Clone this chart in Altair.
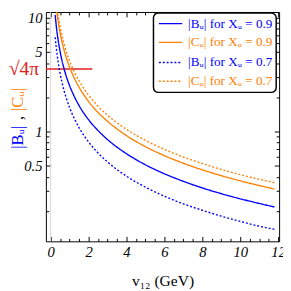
import altair as alt
import pandas as pd

# ---- data ----
v = [0.24, 0.3, 0.4, 0.5, 0.6, 0.7, 0.8, 1.0, 1.25, 1.5, 2.0, 2.5, 3.0, 4.0,
     5.0, 6.0, 7.0, 8.0, 9.0, 10.0, 11.0, 11.8]
bu_09 = [10.6, 8.4, 6.3, 5.05, 4.2, 3.6, 3.15, 2.53, 2.03, 1.69, 1.27, 1.02,
         0.85, 0.638, 0.51, 0.425, 0.365, 0.319, 0.284, 0.256, 0.233, 0.217]
cu_09 = [15.3, 12.3, 9.2, 7.36, 6.13, 5.26, 4.6, 3.68, 2.94, 2.45, 1.84, 1.47,
         1.23, 0.92, 0.736, 0.613, 0.526, 0.46, 0.409, 0.368, 0.335, 0.312]
bu_07 = [6.75, 5.4, 4.05, 3.24, 2.7, 2.31, 2.03, 1.62, 1.3, 1.08, 0.81, 0.648,
         0.54, 0.405, 0.324, 0.27, 0.231, 0.203, 0.18, 0.162, 0.147, 0.138]
cu_07 = [17.4, 13.9, 10.45, 8.36, 6.97, 5.97, 5.23, 4.18, 3.34, 2.79, 2.09, 1.67,
         1.39, 1.045, 0.836, 0.697, 0.597, 0.523, 0.464, 0.418, 0.38, 0.355]

series_names = ["|Bᵤ| for Xᵤ = 0.9", "|Cᵤ| for Xᵤ = 0.9",
                "|Bᵤ| for Xᵤ = 0.7", "|Cᵤ| for Xᵤ = 0.7"]
series_values = [bu_09, cu_09, bu_07, cu_07]

red_x = [-0.25, 2.2]
red_y = [3.545, 3.545]
red_label = ["√4π"]

x_major = [0, 2, 4, 6, 8, 10, 12]
x_minor = [0.5, 1, 1.5, 2.5, 3, 3.5, 4.5, 5, 5.5, 6.5, 7, 7.5, 8.5, 9, 9.5,
           10.5, 11, 11.5]
y_major = [0.5, 1, 5, 10]
y_minor = [0.2, 0.3, 0.4, 0.6, 0.7, 0.8, 0.9, 2, 3, 4, 6, 7, 8, 9]

ytitle_parts = ["|Bᵤ|", ",", "|Cᵤ|"]

# ---- styling ----
BLUE = "#0000ff"
ORANGE = "#ff8000"
RED = "#e02020"
FONT = "Liberation Serif"
W, H = 240, 236
series_colors = [BLUE, ORANGE, BLUE, ORANGE]
series_dash = [[1, 0], [1, 0], [2, 2], [2, 2]]

rows = []
for name, vals in zip(series_names, series_values):
    for xv, yv in zip(v, vals):
        rows.append({"v": xv, "val": yv, "series": name})
df = pd.DataFrame(rows)

xscale = alt.Scale(domain=[-0.25, 12.05], nice=False, zero=False)
yscale = alt.Scale(type="log", domain=[0.1082, 11.25], nice=False)

curves = alt.Chart(df).mark_line(clip=True, strokeWidth=1.4, interpolate="monotone").encode(
    x=alt.X("v:Q", scale=xscale,
            axis=alt.Axis(orient="bottom", values=x_major, ticks=False, tickSize=0,
                          domain=False, grid=False, labelFont=FONT, labelFontStyle="italic",
                          labelFontSize=15, labelColor="black", labelPadding=4,
                          labelFlush=False, format="d",
                          title="v₁₂ (GeV)", titleFont=FONT, titleFontSize=16,
                          titleFontWeight="normal", titleColor="black", titlePadding=13)),
    y=alt.Y("val:Q", scale=yscale,
            axis=alt.Axis(orient="left", values=y_major, ticks=False, tickSize=0,
                          domain=False, grid=False, labelFont=FONT, labelFontStyle="italic",
                          labelFontSize=15, labelColor="black", labelPadding=4,
                          format="~g", title=None, labelFlush=False)),
    color=alt.Color("series:N", sort=series_names,
                    scale=alt.Scale(domain=series_names, range=series_colors),
                    legend=None),
    strokeDash=alt.StrokeDash("series:N", sort=series_names,
                              scale=alt.Scale(domain=series_names, range=series_dash),
                              legend=None),
)


def tick_layer(xorient, xoff, xvals, xsize, yorient, yoff, yvals, ysize):
    return alt.Chart(df).mark_point(opacity=0, clip=True).encode(
        x=alt.X("v:Q", scale=xscale,
                axis=alt.Axis(orient=xorient, offset=xoff, values=xvals, tickSize=xsize,
                              labels=False, domain=False, grid=False, title=None,
                              tickColor="black", tickWidth=1)),
        y=alt.Y("val:Q", scale=yscale,
                axis=alt.Axis(orient=yorient, offset=yoff, values=yvals, tickSize=ysize,
                              labels=False, domain=False, grid=False, title=None,
                              tickColor="black", tickWidth=1)),
    )


t1 = tick_layer("top", -H, x_major, 5, "right", -W, y_major, 5)
t2 = tick_layer("top", -H, x_minor, 3, "right", -W, y_minor, 3)
t3 = tick_layer("bottom", -H, x_major, 5, "left", -W, y_major, 5)
t4 = tick_layer("bottom", -H, x_minor, 3, "left", -W, y_minor, 3)

zero_line = alt.Chart(pd.DataFrame({"v": [0]})).mark_rule(color="#d8d8d8", strokeWidth=1).encode(
    x=alt.X("v:Q", scale=xscale, axis=None))

red_line = alt.Chart(pd.DataFrame({"v": red_x, "val": red_y})).mark_line(
    color=RED, strokeWidth=1.5, clip=True).encode(
    x=alt.X("v:Q", scale=xscale, axis=None),
    y=alt.Y("val:Q", scale=yscale, axis=None))

red_text = alt.Chart(pd.DataFrame({"val": red_y[:1], "t": red_label})).mark_text(
    align="right", baseline="middle", font=FONT, fontSize=20, color=RED).encode(
    x=alt.value(-7), y=alt.Y("val:Q", scale=yscale, axis=None), text="t:N")

YT_X = -29
yt_b = alt.Chart(pd.DataFrame({"t": ytitle_parts[:1]})).mark_text(
    angle=270, align="center", baseline="middle", font=FONT, fontSize=17, color=BLUE).encode(
    x=alt.value(YT_X), y=alt.value(129), text="t:N")
yt_c = alt.Chart(pd.DataFrame({"t": ytitle_parts[1:2]})).mark_text(
    angle=270, align="center", baseline="middle", font=FONT, fontSize=17, color="black").encode(
    x=alt.value(YT_X), y=alt.value(109), text="t:N")
yt_o = alt.Chart(pd.DataFrame({"t": ytitle_parts[2:]})).mark_text(
    angle=270, align="center", baseline="middle", font=FONT, fontSize=17, color=ORANGE).encode(
    x=alt.value(YT_X), y=alt.value(90), text="t:N")

# ---- legend box (layout in plot pixels) ----
LEG_L, LEG_R, LEG_T, LEG_B = 110.7, 237, 1, 82.7
LEG_ROWS_Y = [12, 31.3, 52, 71.3]
LINE_X0, LINE_X1, TEXT_X = 116.3, 140.3, 146.3

legend_layers = [
    alt.Chart(pd.DataFrame({"a": [0]})).mark_rect(
        fill="white", stroke="black", strokeWidth=1.5, cornerRadius=5).encode(
        x=alt.value(LEG_L), x2=alt.value(LEG_R), y=alt.value(LEG_T), y2=alt.value(LEG_B))
]
for i, name in enumerate(series_names):
    legend_layers.append(
        alt.Chart(pd.DataFrame({"a": [0]})).mark_rule(
            color=series_colors[i], strokeWidth=1.4, strokeDash=series_dash[i]).encode(
            x=alt.value(LINE_X0), x2=alt.value(LINE_X1), y=alt.value(LEG_ROWS_Y[i])))
    legend_layers.append(
        alt.Chart(pd.DataFrame({"t": [name]})).mark_text(
            align="left", baseline="middle", font=FONT, fontSize=13.5,
            color=series_colors[i]).encode(
            x=alt.value(TEXT_X), y=alt.value(LEG_ROWS_Y[i]), text="t:N"))

chart = alt.layer(
    zero_line, red_line, curves, t1, t2, t3, t4, red_text, yt_b, yt_c, yt_o,
    *legend_layers
).resolve_axis(x="independent", y="independent").properties(
    width=W, height=H,
    autosize=alt.AutoSizeParams(type="none"),
    padding={"left": 39, "top": 0, "right": 4, "bottom": 47},
).configure_view(stroke="black", strokeWidth=1)

chart.save("out.html", embed_options={"renderer": "svg", "actions": False})
